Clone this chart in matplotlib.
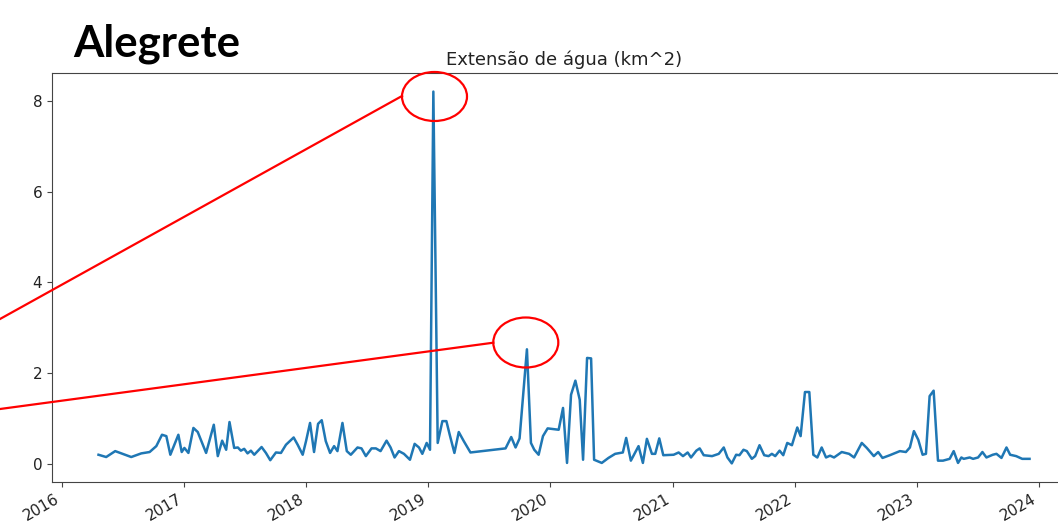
import matplotlib
matplotlib.use("Agg")
import matplotlib.pyplot as plt
import matplotlib.dates as mdates
from matplotlib.ticker import MultipleLocator
from matplotlib.patches import Ellipse
import pandas as pd

# Datas das observações e extensão de água (km^2)
datas = [
    "2016-04-19", "2016-05-12", "2016-06-08", "2016-07-26", "2016-08-25", "2016-09-19",
    "2016-10-09", "2016-10-26", "2016-11-08", "2016-11-20", "2016-12-02", "2016-12-14",
    "2016-12-24", "2017-01-01", "2017-01-13", "2017-01-28", "2017-02-10", "2017-02-25",
    "2017-03-07", "2017-03-30", "2017-04-11", "2017-04-24", "2017-05-06", "2017-05-16",
    "2017-05-30", "2017-06-10", "2017-06-19", "2017-06-29", "2017-07-09", "2017-07-19",
    "2017-07-29", "2017-08-20", "2017-09-02", "2017-09-15", "2017-10-02", "2017-10-17",
    "2017-11-01", "2017-11-24", "2017-12-06", "2017-12-21", "2017-12-31", "2018-01-12",
    "2018-01-24", "2018-02-05", "2018-02-16", "2018-02-28", "2018-03-13", "2018-03-25",
    "2018-04-04", "2018-04-19", "2018-05-02", "2018-05-14", "2018-06-03", "2018-06-15",
    "2018-06-28", "2018-07-15", "2018-07-28", "2018-08-11", "2018-08-29", "2018-09-10",
    "2018-09-22", "2018-10-05", "2018-10-20", "2018-11-07", "2018-11-21", "2018-12-04",
    "2018-12-14", "2018-12-27", "2019-01-06", "2019-01-16", "2019-01-29", "2019-02-12",
    "2019-02-24", "2019-03-06", "2019-03-20", "2019-04-02", "2019-04-17", "2019-05-07",
    "2019-08-20", "2019-09-06", "2019-09-19", "2019-10-01", "2019-10-23", "2019-11-04",
    "2019-11-14", "2019-11-27", "2019-12-10", "2019-12-24", "2020-01-26", "2020-02-08",
    "2020-02-20", "2020-03-03", "2020-03-16", "2020-03-29", "2020-04-08", "2020-04-20",
    "2020-05-02", "2020-05-11", "2020-06-03", "2020-06-23", "2020-07-13", "2020-08-05",
    "2020-08-15", "2020-08-29", "2020-09-21", "2020-10-04", "2020-10-16", "2020-10-31",
    "2020-11-10", "2020-11-22", "2020-12-04", "2021-01-04", "2021-01-19", "2021-02-01",
    "2021-02-15", "2021-02-25", "2021-03-13", "2021-03-23", "2021-04-04", "2021-04-29",
    "2021-05-19", "2021-06-03", "2021-06-14", "2021-06-27", "2021-07-10", "2021-07-20",
    "2021-08-01", "2021-08-11", "2021-08-26", "2021-09-05", "2021-09-18", "2021-10-02",
    "2021-10-15", "2021-10-25", "2021-11-04", "2021-11-17", "2021-11-28", "2021-12-10",
    "2021-12-24", "2022-01-09", "2022-01-19", "2022-02-01", "2022-02-14", "2022-02-26",
    "2022-03-10", "2022-03-23", "2022-04-05", "2022-04-17", "2022-04-29", "2022-05-22",
    "2022-06-13", "2022-06-28", "2022-07-21", "2022-08-05", "2022-08-26", "2022-09-08",
    "2022-09-21", "2022-10-13", "2022-11-12", "2022-11-30", "2022-12-12", "2022-12-24",
    "2023-01-06", "2023-01-19", "2023-01-29", "2023-02-09", "2023-02-21", "2023-03-06",
    "2023-03-21", "2023-04-10", "2023-04-22", "2023-05-05", "2023-05-15", "2023-05-22",
    "2023-06-09", "2023-06-19", "2023-07-04", "2023-07-17", "2023-07-29", "2023-08-17",
    "2023-08-28", "2023-09-12", "2023-09-27", "2023-10-08", "2023-10-26", "2023-11-13",
    "2023-12-05",
]
extensao = [
    0.21, 0.16, 0.29, 0.16, 0.24, 0.27,
    0.40, 0.65, 0.62, 0.21, 0.43, 0.65,
    0.27, 0.36, 0.25, 0.80, 0.71, 0.43,
    0.25, 0.87, 0.18, 0.52, 0.32, 0.93,
    0.36, 0.37, 0.30, 0.34, 0.24, 0.30,
    0.21, 0.38, 0.25, 0.09, 0.26, 0.25,
    0.43, 0.59, 0.43, 0.21, 0.51, 0.91,
    0.27, 0.89, 0.97, 0.51, 0.25, 0.40,
    0.29, 0.91, 0.29, 0.21, 0.37, 0.35,
    0.18, 0.35, 0.35, 0.29, 0.52, 0.37,
    0.15, 0.29, 0.23, 0.10, 0.45, 0.37,
    0.23, 0.47, 0.32, 8.20, 0.47, 0.95,
    0.95, 0.65, 0.25, 0.71, 0.51, 0.26,
    0.35, 0.60, 0.37, 0.57, 2.53, 0.47,
    0.32, 0.21, 0.62, 0.79, 0.76, 1.24,
    0.03, 1.53, 1.84, 1.42, 0.10, 2.34,
    2.33, 0.10, 0.03, 0.14, 0.23, 0.26,
    0.58, 0.08, 0.40, 0.03, 0.56, 0.23,
    0.23, 0.57, 0.20, 0.21, 0.26, 0.18,
    0.26, 0.15, 0.30, 0.35, 0.20, 0.18,
    0.23, 0.37, 0.15, 0.02, 0.21, 0.20,
    0.32, 0.29, 0.12, 0.18, 0.42, 0.20,
    0.18, 0.23, 0.18, 0.30, 0.20, 0.47,
    0.42, 0.81, 0.62, 1.59, 1.59, 0.21,
    0.15, 0.37, 0.15, 0.19, 0.15, 0.27,
    0.23, 0.15, 0.47, 0.36, 0.18, 0.27,
    0.14, 0.20, 0.29, 0.27, 0.37, 0.73,
    0.54, 0.21, 0.23, 1.50, 1.62, 0.08,
    0.08, 0.12, 0.29, 0.03, 0.15, 0.12,
    0.15, 0.12, 0.15, 0.27, 0.15, 0.21,
    0.23, 0.14, 0.37, 0.21, 0.18, 0.12,
    0.12,
]

cidade = "Alegrete"
titulo = "Extensão de água (km^2)"

datas = pd.to_datetime(datas)

fig = plt.figure(figsize=(10.58, 5.24), dpi=100)

# eixo principal: a borda direita passa um pouco do limite da figura
ax = fig.add_axes([0.0491, 0.0802, 0.968, 0.7805])
ax.plot(datas, extensao, color="#1f77b4", linewidth=1.8)
ax.set_title(titulo, fontsize=13, color="#222222")
ax.xaxis.set_major_locator(mdates.YearLocator())
ax.xaxis.set_major_formatter(mdates.DateFormatter("%Y"))
ax.yaxis.set_major_locator(MultipleLocator(2))
ax.tick_params(labelsize=11, labelcolor="#222222", color="#444444")
for s in ax.spines.values():
    s.set_color("#444444")
for lbl in ax.get_xticklabels():
    lbl.set_rotation(30)
    lbl.set_ha("right")

# nome da cidade
fig.text(73 / 1058, 1 - 56 / 524, cidade, fontsize=31.5, fontweight="bold",
         family=["Lato", "DejaVu Sans"], va="baseline", ha="left")

# camada de destaque em coordenadas de pixel
ov = fig.add_axes([0, 0, 1, 1], zorder=5)
ov.set_xlim(0, 1058)
ov.set_ylim(524, 0)
ov.axis("off")
ov.patch.set_alpha(0)

ov.add_patch(Ellipse((434.5, 96.5), 65, 49, fill=False, edgecolor="red", linewidth=1.6))
ov.add_patch(Ellipse((525.8, 342.5), 65, 50, fill=False, edgecolor="red", linewidth=1.6))
ov.plot([0, 402], [319, 96], color="red", linewidth=1.6)
ov.plot([0, 493.3], [409, 342.7], color="red", linewidth=1.6)

fig.savefig("out.png", dpi=100)
